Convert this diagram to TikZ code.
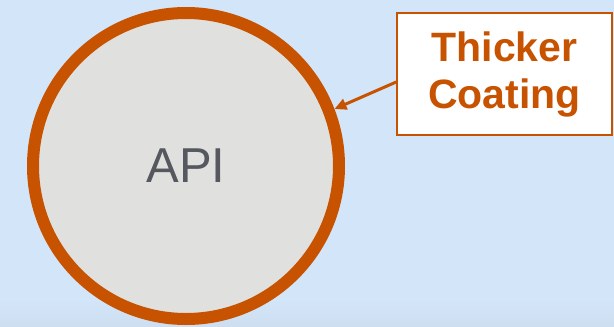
\documentclass[tikz,border=0pt]{standalone}
\usepackage{fontspec}
\setmainfont{Liberation Sans}
\usetikzlibrary{arrows.meta}
\definecolor{bgblue}{RGB}{211,229,248}
\definecolor{bgbottom}{RGB}{204,222,240}
\definecolor{coat}{RGB}{199,82,0}
\definecolor{core}{RGB}{224,224,222}
\definecolor{apitext}{RGB}{85,88,94}
\tikzset{
  coating/.style={circle, draw=coat, line width=12pt, fill=core, minimum size=306pt, inner sep=0pt,
    text=apitext, font=\fontsize{49pt}{55pt}\selectfont},
  callout/.style={draw=coat, line width=1.6pt, fill=white, minimum width=215pt, minimum height=122pt,
    inner sep=0pt, align=center, text=coat, font=\bfseries\fontsize{41pt}{47pt}\selectfont},
  pointer/.style={draw=coat, line width=3pt, -{Triangle[length=12pt,width=11pt]}}
}
\begin{document}
\begin{tikzpicture}[x=1pt,y=-1pt]
\useasboundingbox (0,0) rectangle (614,327);
\fill[bgblue] (0,0) rectangle (614,327);
\shade[top color=bgblue, bottom color=bgbottom] (0,300) rectangle (614,327);
\node[coating] (api) at (186,166) {API};
\node[callout] (box) at (504.5,74) {Thicker\\Coating};
\draw[pointer] ([yshift=-8pt]box.west) -- (api.21.5);
\end{tikzpicture}
\end{document}
